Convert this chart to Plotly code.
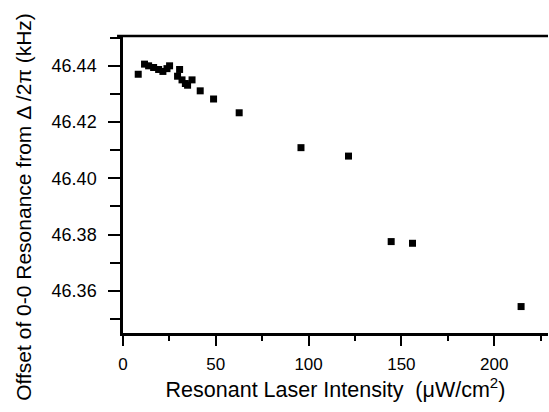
import plotly.graph_objects as go

intensity = [8.2, 11.6, 13.8, 16.5, 19.2, 21.5, 23.7, 25.1, 29.4, 30.5, 31.8, 33.6, 34.8, 37.2,
             41.6, 48.8, 62.6, 95.9, 121.5, 144.5, 156.0, 214.5]
offset = [46.437, 46.4406, 46.4400, 46.4394, 46.4387, 46.4380, 46.4390, 46.4400, 46.4363, 46.4387,
          46.4350, 46.4337, 46.4331, 46.4350, 46.4311, 46.4282, 46.4233, 46.4109, 46.4079,
          46.3775, 46.3769, 46.3544]

xticks = [0, 50, 100, 150, 200]
yticks = [46.36, 46.38, 46.40, 46.42, 46.44]
ytick_text = ["46.36", "46.38", "46.40", "46.42", "46.44"]

fig = go.Figure()
fig.add_trace(go.Scatter(
    x=intensity, y=offset, mode="markers",
    marker=dict(symbol="square", size=7, color="black", line=dict(width=0)),
    showlegend=False, cliponaxis=False,
))

font = "Liberation Sans, Arial, Helvetica, sans-serif"
fig.update_layout(
    width=549, height=412,
    margin=dict(l=123, r=1, t=36, b=79),
    plot_bgcolor="white", paper_bgcolor="white",
    font=dict(family=font, color="black", size=18),
    xaxis=dict(
        range=[0, 229], tickvals=xticks, ticks="outside", ticklen=10, tickwidth=2,
        tickcolor="black", showline=True, linewidth=2.5, linecolor="black", mirror=False,
        showgrid=False, zeroline=False, tickfont=dict(size=17), ticklabelstandoff=4,
        minor=dict(dtick=25, tick0=0, ticks="outside", ticklen=5, tickwidth=2, tickcolor="black", showgrid=False),
        title=dict(text="Resonant Laser Intensity  (μW/cm<sup>2</sup>)", font=dict(size=21.5), standoff=3),
    ),
    yaxis=dict(
        range=[46.345, 46.4506], tickvals=yticks, ticktext=ytick_text, ticks="outside", ticklen=12,
        tickwidth=2, tickcolor="black", showline=True, linewidth=2.5, linecolor="black", mirror=False,
        showgrid=False, zeroline=False, tickfont=dict(size=18), ticklabelstandoff=8,
        minor=dict(dtick=0.01, tick0=46.34, ticks="outside", ticklen=10, tickwidth=2, tickcolor="black", showgrid=False),
    ),
    shapes=[dict(type="line", xref="paper", yref="paper", x0=-0.014, x1=1, y0=1, y1=1,
                 line=dict(color="black", width=2.5))],
    annotations=[dict(text="Offset of 0-0 Resonance from Δ /2π (kHz)", textangle=-90,
                      xref="paper", yref="paper", x=-0.233, y=0.425, xanchor="center", yanchor="middle",
                      showarrow=False, font=dict(size=21))],
)

fig.write_html("out.html")
